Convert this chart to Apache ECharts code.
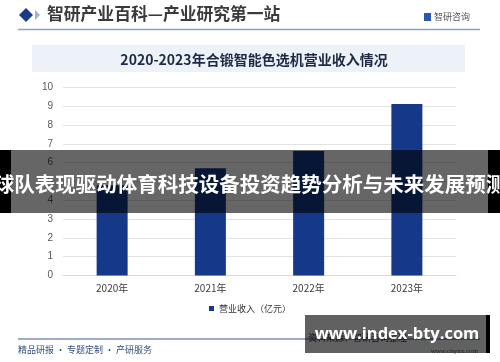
<!DOCTYPE html>
<html><head><meta charset="utf-8">
<script src="https://cdn.jsdelivr.net/npm/echarts@6/dist/echarts.min.js"></script>
<style>html,body{margin:0;padding:0;background:#fff}#c{width:500px;height:362px}</style>
</head><body><div id="c"></div>
<script>
const categories = ['2020年', '2021年', '2022年', '2023年'];
const revenue = [4.8, 5.7, 6.62, 9.12];
const yTicks = [0, 1, 2, 3, 4, 5, 6, 7, 8, 9, 10];
const seriesName = '营业收入（亿元）';
const chartTitle = '2020-2023年合锻智能色选机营业收入情况';
const headerText = '智研产业百科—产业研究第一站';
const bandText = '球队表现驱动体育科技设备投资趋势分析与未来发展预测';
const footerText = '精品研报 · 专题定制 · 产研服务';
const siteText = 'www.index-bty.com';

const CJK = '"Noto Sans CJK SC", "Microsoft YaHei", sans-serif';
const chart = echarts.init(document.getElementById('c'), null, {renderer: 'canvas'});
chart.setOption({
  animation: false,
  backgroundColor: '#ffffff',
  grid: {left: 63, right: 44, top: 87.5, bottom: 86.5, containLabel: false},
  legend: {
    data: [seriesName], bottom: 44, left: 'center',
    itemWidth: 5, itemHeight: 5, itemGap: 4, icon: 'rect',
    textStyle: {fontFamily: CJK, fontSize: 9, color: '#333'}
  },
  xAxis: {
    type: 'category', data: categories,
    axisLine: {lineStyle: {color: '#d9d9d9'}}, axisTick: {show: false},
    axisLabel: {fontFamily: CJK, fontSize: 10, color: '#404040', margin: 8}
  },
  yAxis: {
    type: 'value', min: yTicks[0], max: yTicks[yTicks.length - 1], interval: 1,
    axisLine: {show: false}, axisTick: {show: false},
    axisLabel: {fontFamily: 'Liberation Sans, Arial, sans-serif', fontSize: 10, color: '#595959', margin: 10},
    splitLine: {lineStyle: {color: '#e3e3e3'}}
  },
  series: [{
    name: seriesName, type: 'bar', data: revenue, barWidth: 31,
    itemStyle: {color: '#163888'}
  }],
  graphic: [
    // header
    {type: 'polygon', shape: {points: [[19, 15], [26, 8], [33, 15], [26, 22]]}, style: {fill: '#1b3a87'}},
    {type: 'polygon', shape: {points: [[35, 10], [40, 15], [35, 20]]}, style: {fill: '#9fb2d6'}},
    {type: 'text', left: 47, top: 5, style: {text: headerText, font: 'bold 16.8px ' + CJK, fill: '#3a3a3a'}},
    {type: 'rect', shape: {x: 424, y: 13, width: 7, height: 8}, style: {fill: '#2a56b0'}},
    {type: 'text', left: 434, top: 12, style: {text: '智研咨询', font: '9px ' + CJK, fill: '#555'}},
    {type: 'line', shape: {x1: 18, y1: 29.5, x2: 480, y2: 29.5}, style: {stroke: '#8ea3c4', lineWidth: 1.5}},
    // title box
    {type: 'rect', shape: {x: 32, y: 45, width: 433, height: 27}, style: {fill: '#edf2f9'}},
    {type: 'text', x: 254, y: 60, style: {text: chartTitle, font: 'bold 14px ' + CJK, fill: '#1e2a44', align: 'center', verticalAlign: 'middle'}},
    // footer
    {type: 'line', shape: {x1: 18, y1: 339, x2: 480, y2: 339}, style: {stroke: '#3a5a94', lineWidth: 1}},
    {type: 'text', left: 18, top: 345, style: {text: footerText, font: '9px ' + CJK, fill: '#35507f'}},
    {type: 'text', x: 308, y: 338, style: {text: '资料来源：智研咨询整理', font: '9px ' + CJK, fill: '#333', verticalAlign: 'middle'}},
    {type: 'text', x: 478, y: 351, style: {text: 'www.chyxx.com', font: '7px serif', fill: '#555', align: 'right', verticalAlign: 'middle'}},
    // overlay band
    {type: 'rect', z: 100, shape: {x: 11, y: 150, width: 477, height: 63}, style: {fill: 'rgba(0,0,0,0.6)'}},
    {type: 'rect', z: 100, shape: {x: 0, y: 150, width: 11, height: 63}, style: {fill: '#000'}},
    {type: 'rect', z: 100, shape: {x: 488, y: 150, width: 12, height: 63}, style: {fill: '#000'}},
    {type: 'text', z: 101, x: 250, y: 184, style: {text: bandText, font: 'bold 20.5px ' + CJK, fill: '#fff', align: 'center', verticalAlign: 'middle'}},
    // site overlay
    {type: 'rect', z: 100, shape: {x: 305, y: 315, width: 181, height: 38}, style: {fill: 'rgba(0,0,0,0.62)'}},
    {type: 'rect', z: 100, shape: {x: 486, y: 315, width: 4, height: 38}, style: {fill: '#000'}},
    {type: 'text', z: 101, x: 397, y: 334, style: {text: siteText, font: 'bold 16.5px "Open Sans", sans-serif', fill: '#fff', align: 'center', verticalAlign: 'middle'}}
  ]
});
</script></body></html>
